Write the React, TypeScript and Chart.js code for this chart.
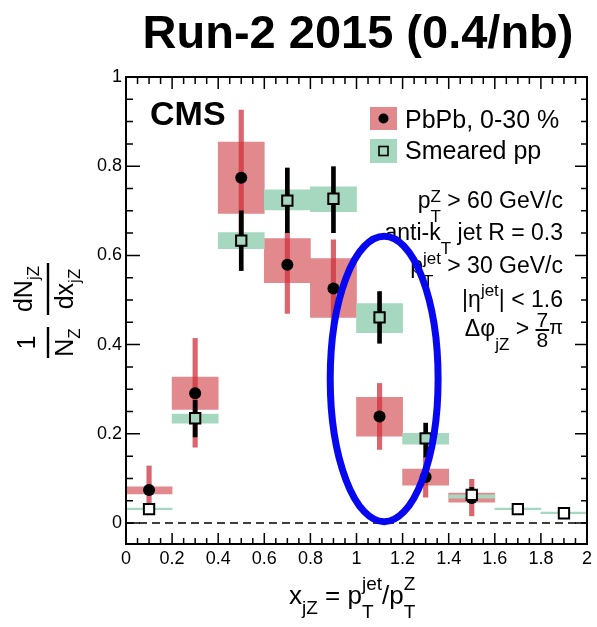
import React, { useEffect, useRef } from "react";
import { Chart, registerables } from "chart.js";

Chart.register(...registerables);

const FONT = "'Liberation Sans', Arial, Helvetica, sans-serif";

// PbPb 0-30 %: bin centres, values, statistical and systematic ranges
const pbpbX = [0.1, 0.3, 0.5, 0.7, 0.9, 1.1, 1.3, 1.5];
const pbpbY = [0.074, 0.291, 0.774, 0.579, 0.526, 0.239, 0.103, 0.056];
const pbpbStatLo = [0.022, 0.17, 0.62, 0.47, 0.418, 0.165, 0.058, 0.016];
const pbpbStatHi = [0.128, 0.414, 0.926, 0.651, 0.635, 0.313, 0.148, 0.098];
const pbpbSysLo = [0.065, 0.255, 0.694, 0.539, 0.461, 0.195, 0.085, 0.047];
const pbpbSysHi = [0.081, 0.327, 0.854, 0.638, 0.593, 0.282, 0.121, 0.067];

// Smeared pp reference
const ppX = [0.1, 0.3, 0.5, 0.7, 0.9, 1.1, 1.3, 1.5, 1.7, 1.9];
const ppY = [0.031, 0.235, 0.633, 0.723, 0.727, 0.461, 0.19, 0.063, 0.031, 0.022];
const ppStatLo = [0.024, 0.193, 0.566, 0.651, 0.651, 0.403, 0.148, 0.045, 0.027, 0.018];
const ppStatHi = [0.038, 0.275, 0.7, 0.796, 0.799, 0.519, 0.224, 0.08, 0.035, 0.026];
const ppSysLo = [0.03, 0.224, 0.615, 0.702, 0.698, 0.427, 0.177, 0.056, 0.03, 0.021];
const ppSysHi = [0.033, 0.244, 0.651, 0.747, 0.754, 0.492, 0.201, 0.063, 0.032, 0.023];

// axes
const xRange = [0, 2];
const yRange = [-0.047, 1];
const xTickValues = [0, 0.2, 0.4, 0.6, 0.8, 1, 1.2, 1.4, 1.6, 1.8, 2];
const yTickValues = [0, 0.2, 0.4, 0.6, 0.8, 1];
const minorStep = 0.05;

// highlighted x_jZ ~ 1.1 region: centre x, centre y, half-width, half-height
const highlight = [1.12, 0.323, 0.234, 0.32];

const RED_BOX = "rgb(226,137,141)";
const RED_LINE = "rgba(205,50,62,0.75)";
const GREEN_BOX = "rgb(166,216,191)";

const fmt = (v: number) => String(Math.round(v * 10) / 10);

type Piece =
  | { t: string; size: number; dy?: number; bold?: boolean }
  | { sub: string; sup: string; size: number; dsub: number; dsup: number }
  | { num: string; den: string; size: number; dnum: number; dden: number; dbar: number };

function setFont(ctx: CanvasRenderingContext2D, size: number, bold?: boolean) {
  ctx.font = `${bold ? "bold " : ""}${size}px ${FONT}`;
}

function pieceWidth(ctx: CanvasRenderingContext2D, p: Piece): number {
  if ("t" in p) {
    setFont(ctx, p.size, p.bold);
    return ctx.measureText(p.t).width;
  }
  if ("sub" in p) {
    setFont(ctx, p.size);
    return Math.max(ctx.measureText(p.sub).width, ctx.measureText(p.sup).width);
  }
  setFont(ctx, p.size);
  return Math.max(ctx.measureText(p.num).width, ctx.measureText(p.den).width) + 2;
}

function drawPieces(
  ctx: CanvasRenderingContext2D,
  pieces: Piece[],
  x: number,
  y: number,
  align: "left" | "right" | "center"
) {
  const widths = pieces.map((p) => pieceWidth(ctx, p));
  const total = widths.reduce((a, b) => a + b, 0);
  let cx = align === "left" ? x : align === "right" ? x - total : x - total / 2;
  ctx.textAlign = "left";
  ctx.textBaseline = "alphabetic";
  pieces.forEach((p, i) => {
    const w = widths[i];
    if ("t" in p) {
      setFont(ctx, p.size, p.bold);
      ctx.fillText(p.t, cx, y + (p.dy || 0));
    } else if ("sub" in p) {
      setFont(ctx, p.size);
      ctx.fillText(p.sub, cx, y + p.dsub);
      ctx.fillText(p.sup, cx, y + p.dsup);
    } else {
      setFont(ctx, p.size);
      const nw = ctx.measureText(p.num).width;
      const dw = ctx.measureText(p.den).width;
      ctx.fillText(p.num, cx + (w - nw) / 2, y + p.dnum);
      ctx.fillText(p.den, cx + (w - dw) / 2, y + p.dden);
      ctx.fillRect(cx, y + p.dbar - 1, w, 2);
    }
    cx += w;
  });
  return total;
}

// centred fraction whose numerator/denominator are piece lists
function drawFraction(
  ctx: CanvasRenderingContext2D,
  num: Piece[],
  den: Piece[],
  cx: number,
  numBase: number,
  denBase: number,
  barLen: number
) {
  drawPieces(ctx, num, cx, numBase, "center");
  drawPieces(ctx, den, cx, denBase, "center");
  ctx.fillRect(cx - barLen / 2, -1.2, barLen, 2.4);
}

const decorPlugin = {
  id: "cmsDecor",
  beforeDatasetsDraw(chart: any) {
    const { ctx, chartArea: a, scales } = chart;
    const y0 = scales.y.getPixelForValue(0);
    ctx.save();
    ctx.strokeStyle = "#000";
    ctx.lineWidth = 1.5;
    ctx.setLineDash([8, 5]);
    ctx.beginPath();
    ctx.moveTo(a.left, y0);
    ctx.lineTo(a.right, y0);
    ctx.stroke();
    ctx.restore();
  },
  afterDatasetsDraw(chart: any) {
    const { ctx, chartArea: a, scales } = chart;
    const xs = scales.x;
    const ys = scales.y;
    ctx.save();
    ctx.fillStyle = "#000";
    ctx.strokeStyle = "#000";

    // frame
    ctx.lineWidth = 2;
    ctx.strokeRect(a.left, a.top, a.right - a.left, a.bottom - a.top);

    // inward major/minor ticks on all four sides
    ctx.lineWidth = 1.5;
    ctx.beginPath();
    const nx = Math.round((xRange[1] - xRange[0]) / minorStep);
    for (let i = 0; i <= nx; i++) {
      const v = xRange[0] + i * minorStep;
      const px = xs.getPixelForValue(v);
      const major = i % 4 === 0;
      ctx.moveTo(px, a.bottom);
      ctx.lineTo(px, a.bottom - (major ? 11 : 6));
      ctx.moveTo(px, a.top);
      ctx.lineTo(px, a.top + (major ? 12 : 7));
    }
    for (let i = 0; i * minorStep <= yRange[1] + 1e-9; i++) {
      const v = i * minorStep;
      const py = ys.getPixelForValue(v);
      const major = i % 4 === 0;
      ctx.moveTo(a.left, py);
      ctx.lineTo(a.left + (major ? 14 : 7), py);
      ctx.moveTo(a.right, py);
      ctx.lineTo(a.right - (major ? 12 : 6), py);
    }
    ctx.stroke();

    // CMS label
    drawPieces(ctx, [{ t: "CMS", size: 34, bold: true }], 150, 125, "left");

    // legend
    ctx.fillStyle = RED_BOX;
    ctx.fillRect(370, 107, 27, 23);
    ctx.fillStyle = GREEN_BOX;
    ctx.fillRect(370, 139, 27, 24);
    ctx.fillStyle = "#000";
    ctx.beginPath();
    ctx.arc(383.5, 118.5, 5, 0, Math.PI * 2);
    ctx.fill();
    ctx.lineWidth = 1.6;
    ctx.strokeRect(379, 146.5, 9, 9);
    drawPieces(ctx, [{ t: "PbPb, 0-30 %", size: 25 }], 405, 128, "left");
    drawPieces(ctx, [{ t: "Smeared pp", size: 25 }], 405, 159, "left");

    // selection text
    const S = 23;
    const s = 17;
    const xr = 563;
    drawPieces(
      ctx,
      [
        { t: "p", size: S },
        { sub: "T", sup: "Z", size: s, dsub: 14, dsup: -6 },
        { t: " > 60 GeV/c", size: S },
      ],
      xr,
      208,
      "right"
    );
    drawPieces(
      ctx,
      [
        { t: "anti-k", size: S },
        { t: "T", size: s, dy: 14 },
        { t: " jet R = 0.3", size: S },
      ],
      xr,
      240,
      "right"
    );
    drawPieces(
      ctx,
      [
        { t: "p", size: S },
        { sub: "T", sup: "jet", size: s, dsub: 14, dsup: -9 },
        { t: " > 30 GeV/c", size: S },
      ],
      xr,
      273,
      "right"
    );
    drawPieces(
      ctx,
      [
        { t: "|η", size: S },
        { t: "jet", size: s, dy: -11 },
        { t: "| < 1.6", size: S },
      ],
      xr,
      307,
      "right"
    );
    drawPieces(
      ctx,
      [
        { t: "Δφ", size: S },
        { t: "jZ", size: s, dy: 14 },
        { t: " > ", size: S },
        { num: "7", den: "8", size: 21, dnum: -9, dden: 11, dbar: -6 },
        { t: "π", size: 20, dy: -2 },
      ],
      xr,
      336,
      "right"
    );

    // x-axis title
    drawPieces(
      ctx,
      [
        { t: "x", size: 26 },
        { t: "jZ", size: 19, dy: 10 },
        { t: " = p", size: 26 },
        { sub: "T", sup: "jet", size: 19, dsub: 14, dsup: -14 },
        { t: "/p", size: 26 },
        { sub: "T", sup: "Z", size: 19, dsub: 14, dsup: -14 },
      ],
      289,
      604,
      "left"
    );

    // y-axis title, rotated
    ctx.save();
    ctx.translate(48, 310);
    ctx.rotate(-Math.PI / 2);
    drawFraction(
      ctx,
      [{ t: "1", size: 25 }],
      [
        { t: "N", size: 25 },
        { t: "Z", size: 17, dy: 7 },
      ],
      -32.5,
      -13,
      25,
      31
    );
    drawFraction(
      ctx,
      [
        { t: "dN", size: 25 },
        { t: "jZ", size: 17, dy: 7 },
      ],
      [
        { t: "dx", size: 25 },
        { t: "jZ", size: 17, dy: 7 },
      ],
      21,
      -16,
      25,
      52
    );
    ctx.restore();

    // title
    drawPieces(ctx, [{ t: "Run-2 2015 (0.4/nb)", size: 47, bold: true }], 358, 48, "center");

    // highlighted region
    const [hx, hy, hrx, hry] = highlight;
    const cxp = xs.getPixelForValue(hx);
    const cyp = ys.getPixelForValue(hy);
    const rxp = Math.abs(xs.getPixelForValue(hx + hrx) - cxp);
    const ryp = Math.abs(ys.getPixelForValue(hy + hry) - cyp);
    ctx.strokeStyle = "rgb(8,8,240)";
    ctx.lineWidth = 7;
    ctx.beginPath();
    ctx.ellipse(cxp, cyp, rxp, ryp, 0, 0, Math.PI * 2);
    ctx.stroke();

    ctx.restore();
  },
};

export default function App() {
  const ref = useRef<HTMLCanvasElement>(null);

  useEffect(() => {
    const canvas = ref.current;
    if (!canvas) return;
    const squareFill = ppX.map((_, i) => (ppSysHi[i] - ppSysLo[i] > 0.01 ? GREEN_BOX : "#fff"));
    const tickFont = { family: FONT, size: 18 };

    const chart = new Chart(canvas, {
      type: "bar",
      data: {
        datasets: [
          {
            type: "bar",
            label: "PbPb sys",
            data: pbpbX.map((x, i) => ({ x, y: [pbpbSysLo[i], pbpbSysHi[i]] })) as any,
            backgroundColor: RED_BOX,
            borderWidth: 0,
            barPercentage: 1,
            categoryPercentage: 1,
            grouped: false,
            order: 10,
          },
          {
            type: "bar",
            label: "pp sys",
            data: ppX.map((x, i) => ({ x, y: [ppSysLo[i], ppSysHi[i]] })) as any,
            backgroundColor: GREEN_BOX,
            borderWidth: 0,
            barPercentage: 1,
            categoryPercentage: 1,
            minBarLength: 1.5,
            grouped: false,
            order: 9,
          },
          {
            type: "bar",
            label: "PbPb stat",
            data: pbpbX.map((x, i) => ({ x, y: [pbpbStatLo[i], pbpbStatHi[i]] })) as any,
            backgroundColor: RED_LINE,
            borderWidth: 0,
            barThickness: 4.5,
            grouped: false,
            order: 8,
          },
          {
            type: "bar",
            label: "pp stat",
            data: ppX.map((x, i) => ({ x, y: [ppStatLo[i], ppStatHi[i]] })) as any,
            backgroundColor: "#000",
            borderWidth: 0,
            barThickness: 4,
            grouped: false,
            order: 7,
          },
          {
            type: "scatter",
            label: "PbPb, 0-30 %",
            data: pbpbX.map((x, i) => ({ x, y: pbpbY[i] })),
            pointStyle: "circle",
            pointRadius: 6,
            backgroundColor: "#000",
            borderColor: "#000",
            borderWidth: 0,
            order: 6,
          },
          {
            type: "scatter",
            label: "Smeared pp",
            data: ppX.map((x, i) => ({ x, y: ppY[i] })),
            pointStyle: "rect",
            pointRadius: 7.3,
            pointBackgroundColor: squareFill,
            pointBorderColor: "#000",
            pointBorderWidth: 2,
            order: 5,
          },
        ] as any,
      },
      options: {
        responsive: false,
        maintainAspectRatio: false,
        animation: false,
        layout: { padding: { top: 77, right: 10, left: 0, bottom: 0 } },
        plugins: {
          legend: { display: false },
          tooltip: { enabled: false },
          title: { display: false },
        },
        scales: {
          x: {
            type: "linear",
            min: xRange[0],
            max: xRange[1],
            offset: false,
            grid: { display: false, drawTicks: false },
            border: { display: false },
            ticks: {
              color: "#000",
              font: tickFont,
              padding: 4,
              maxRotation: 0,
              autoSkip: false,
              callback: (v: any) => fmt(Number(v)),
            },
            afterBuildTicks: (s: any) => {
              s.ticks = xTickValues.map((value) => ({ value }));
            },
            afterFit: (s: any) => {
              s.height = 83;
              s.paddingLeft = 0;
              s.paddingRight = 0;
            },
          },
          y: {
            type: "linear",
            min: yRange[0],
            max: yRange[1],
            grid: { display: false, drawTicks: false },
            border: { display: false },
            ticks: {
              color: "#000",
              font: tickFont,
              padding: 4,
              autoSkip: false,
              callback: (v: any) => fmt(Number(v)),
            },
            afterBuildTicks: (s: any) => {
              s.ticks = yTickValues.map((value) => ({ value }));
            },
            afterFit: (s: any) => {
              s.width = 126;
              s.paddingTop = 0;
              s.paddingBottom = 0;
            },
          },
        },
      } as any,
      plugins: [decorPlugin],
    });

    return () => chart.destroy();
  }, []);

  return (
    <div style={{ position: "absolute", left: 0, top: 0, width: 597, height: 627, background: "#fff" }}>
      <canvas ref={ref} width={597} height={627} style={{ display: "block", width: 597, height: 627 }} />
    </div>
  );
}
